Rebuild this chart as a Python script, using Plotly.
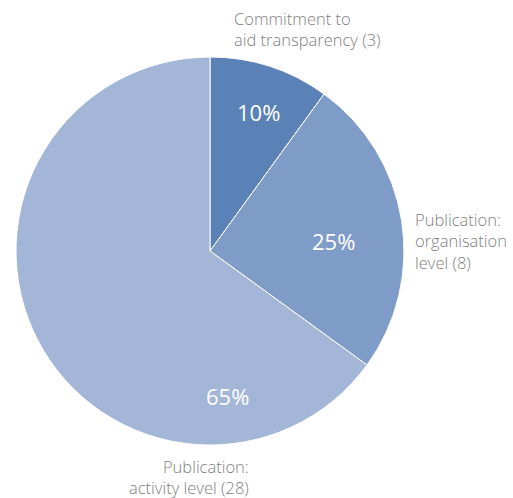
import plotly.graph_objects as go

categories = ["Commitment to<br>aid transparency (3)",
              "Publication:<br>organisation<br>level (8)",
              "Publication:<br>activity level (28)"]
shares = [10, 25, 65]
pct_labels = ["10%", "25%", "65%"]
colors = ["#5b82b6", "#7f9cc8", "#a4b6d7"]

W, H = 513, 498


def px(x):
    return x / W


def py(y):
    return 1 - y / H


fig = go.Figure(go.Pie(
    labels=categories, values=shares, sort=False, direction="clockwise",
    rotation=0, textinfo="none", hoverinfo="label+percent",
    marker=dict(colors=colors, line=dict(color="white", width=1)),
    domain=dict(x=[px(16), px(404)], y=[py(445), py(57)]),
    showlegend=False,
))

pct_pos = [(258, 95), (357, 241), (227, 413)]
for t, (x, y) in zip(pct_labels, pct_pos):
    fig.add_annotation(x=px(x), y=py(y), xref="paper", yref="paper",
                       text=t, showarrow=False,
                       font=dict(family="Open Sans", size=22, color="white"))

cat_pos = [(232, 29, "left"), (413, 241, "left"), (251, 477, "right")]
for t, (x, y, al) in zip(categories, cat_pos):
    fig.add_annotation(x=px(x), y=py(y), xref="paper", yref="paper",
                       text=t, showarrow=False, align=al,
                       xanchor="left" if al == "left" else "right",
                       yanchor="middle",
                       font=dict(family="Open Sans", size=16.5, color="#808080", weight=300))

fig.update_layout(width=W, height=H, margin=dict(l=0, r=0, t=0, b=0),
                  paper_bgcolor="white", plot_bgcolor="white")
fig.write_html("out.html", config={"displayModeBar": False},
               post_script="document.body.style.margin='0';"
                           "document.documentElement.style.overflow='hidden';")
